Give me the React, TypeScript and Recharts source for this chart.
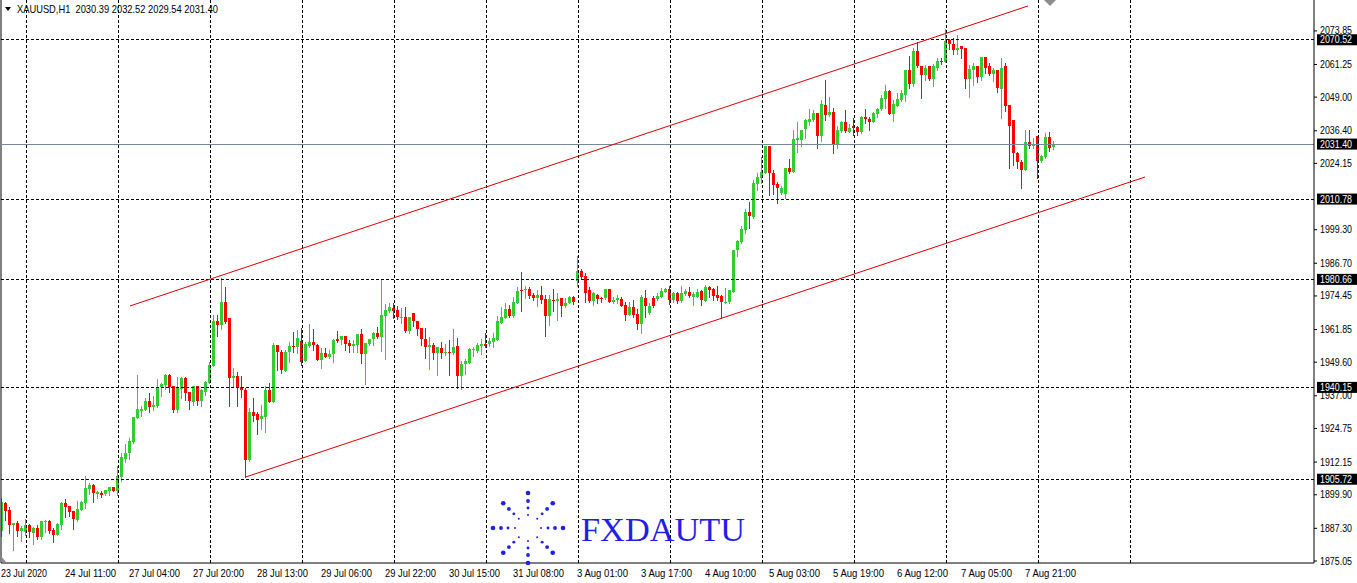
import { ComposedChart, Bar, XAxis, YAxis, ReferenceLine } from 'recharts';

const FONT = "Tahoma, 'Liberation Sans', 'DejaVu Sans', sans-serif";
const UP = '#32CD32';
const DOWN = '#FF0000';

// XAUUSD H1 candles, 23 Jul - 7 Aug 2020 (one entry per bar)
const opens = [
  1886.4, 1896.9, 1894.2, 1888.7, 1889.4, 1886.4, 1886.0, 1888.7,
  1885.7, 1887.5, 1884.2, 1889.7, 1890.0, 1886.7, 1884.9, 1888.7,
  1896.8, 1895.7, 1893.8, 1890.4, 1894.3, 1896.9, 1902.2, 1903.5,
  1900.3, 1900.4, 1900.3, 1901.4, 1902.8, 1901.4, 1906.7, 1913.3,
  1915.4, 1919.8, 1928.8, 1931.4, 1931.7, 1935.2, 1932.9, 1933.2,
  1940.2, 1941.0, 1944.8, 1940.5, 1931.7, 1939.6, 1943.8, 1938.5,
  1934.8, 1940.5, 1935.2, 1938.5, 1941.7, 1948.2, 1965.2, 1963.6,
  1972.0, 1966.1, 1943.5, 1944.5, 1940.2, 1939.2, 1913.0, 1931.1,
  1930.1, 1928.3, 1929.2, 1939.2, 1934.5, 1956.1, 1953.6, 1946.3,
  1953.5, 1955.7, 1955.3, 1957.6, 1950.2, 1955.7, 1957.2, 1956.1,
  1950.5, 1953.0, 1951.7, 1952.5, 1958.2, 1958.0, 1959.5, 1956.8,
  1955.7, 1955.9, 1960.2, 1952.7, 1956.3, 1958.2, 1960.7, 1959.2,
  1967.0, 1968.9, 1969.9, 1969.2, 1966.2, 1966.4, 1961.4, 1967.9,
  1965.0, 1962.4, 1958.3, 1955.4, 1956.0, 1952.9, 1955.0, 1952.9,
  1953.4, 1953.2, 1955.7, 1944.4, 1948.9, 1949.4, 1954.2, 1953.9,
  1955.8, 1956.4, 1956.4, 1957.0, 1958.0, 1964.4, 1966.3, 1969.4,
  1966.9, 1971.9, 1976.7, 1976.5, 1977.1, 1974.8, 1973.8, 1974.8,
  1973.2, 1967.1, 1973.0, 1972.7, 1973.5, 1970.5, 1971.7, 1974.2,
  1980.2, 1983.8, 1982.0, 1976.5, 1972.7, 1974.8, 1973.8, 1973.6,
  1977.1, 1972.3, 1973.0, 1973.2, 1971.1, 1967.3, 1970.2, 1967.7,
  1964.0, 1973.8, 1968.0, 1973.8, 1973.2, 1974.2, 1976.1, 1977.0,
  1973.0, 1975.5, 1972.7, 1975.1, 1976.1, 1974.2, 1974.2, 1976.3,
  1972.7, 1977.7, 1977.0, 1974.8, 1974.5, 1972.0, 1972.0, 1976.1,
  1991.5, 1994.8, 1999.2, 2006.1, 2004.2, 2016.5, 2018.6, 2020.7,
  2030.7, 2020.7, 2016.5, 2013.0, 2012.7, 2022.3, 2021.1, 2033.0,
  2033.0, 2037.0, 2039.6, 2040.5, 2043.0, 2034.6, 2046.2, 2042.3,
  2043.3, 2031.5, 2036.3, 2039.8, 2036.1, 2038.0, 2037.7, 2036.0,
  2041.7, 2040.7, 2039.5, 2042.6, 2044.6, 2048.3, 2051.3, 2042.7,
  2045.8, 2048.0, 2049.8, 2059.2, 2054.0, 2066.3, 2060.5, 2057.3,
  2060.5, 2055.8, 2060.1, 2062.6, 2062.1, 2070.5, 2068.8, 2066.7,
  2068.0, 2067.6, 2055.8, 2059.2, 2060.8, 2056.5, 2064.0, 2060.5,
  2057.7, 2059.0, 2052.1, 2060.5, 2046.1, 2040.5, 2028.2, 2024.8,
  2021.7, 2032.0, 2030.5, 2034.6, 2025.2, 2026.6, 2034.1, 2030.39,
];

const highs = [
  1898.8, 1897.3, 1895.4, 1889.4, 1890.0, 1888.2, 1890.7, 1889.0,
  1887.9, 1888.5, 1890.0, 1890.5, 1890.4, 1887.3, 1889.2, 1897.0,
  1898.3, 1895.7, 1893.8, 1897.5, 1897.5, 1906.9, 1904.4, 1904.0,
  1901.4, 1901.4, 1901.7, 1902.9, 1902.8, 1910.7, 1915.5, 1918.9,
  1921.0, 1929.0, 1944.8, 1933.2, 1936.3, 1938.0, 1936.9, 1943.3,
  1941.9, 1945.0, 1945.2, 1940.8, 1944.2, 1944.2, 1944.2, 1938.5,
  1940.7, 1940.7, 1939.5, 1942.6, 1949.8, 1967.3, 1967.3, 1981.1,
  1977.7, 1966.1, 1947.6, 1946.1, 1944.5, 1939.8, 1932.3, 1936.0,
  1931.1, 1933.6, 1940.5, 1941.7, 1956.7, 1956.2, 1954.2, 1954.0,
  1957.0, 1961.0, 1961.7, 1962.3, 1957.3, 1964.0, 1962.1, 1956.5,
  1954.8, 1954.8, 1954.2, 1958.2, 1961.3, 1959.5, 1959.5, 1958.0,
  1958.0, 1960.2, 1961.9, 1956.7, 1958.4, 1961.0, 1962.9, 1980.7,
  1971.4, 1971.7, 1971.7, 1970.7, 1969.9, 1970.4, 1966.7, 1967.9,
  1965.0, 1962.4, 1962.5, 1958.9, 1956.9, 1955.4, 1957.0, 1956.3,
  1957.9, 1961.9, 1958.5, 1950.2, 1950.8, 1954.9, 1955.4, 1956.7,
  1958.3, 1960.4, 1958.7, 1960.4, 1966.9, 1970.4, 1971.7, 1970.9,
  1974.2, 1977.9, 1983.4, 1978.2, 1977.7, 1975.7, 1976.7, 1978.2,
  1974.8, 1974.8, 1977.0, 1975.5, 1973.8, 1973.6, 1974.5, 1974.5,
  1989.5, 1984.5, 1983.2, 1977.7, 1976.1, 1975.1, 1974.2, 1977.1,
  1977.1, 1974.2, 1974.8, 1974.2, 1972.3, 1972.3, 1973.0, 1969.5,
  1974.8, 1976.7, 1971.7, 1974.5, 1975.7, 1977.3, 1977.3, 1978.3,
  1976.1, 1976.1, 1978.2, 1977.1, 1977.7, 1976.1, 1977.0, 1976.7,
  1978.6, 1978.0, 1977.3, 1978.0, 1974.8, 1977.3, 1976.7, 1991.7,
  1995.5, 2000.5, 2007.0, 2009.5, 2018.0, 2020.5, 2026.5, 2030.7,
  2030.7, 2021.7, 2017.0, 2015.5, 2022.6, 2025.7, 2036.7, 2039.8,
  2036.7, 2040.7, 2044.6, 2044.2, 2043.2, 2048.0, 2055.5, 2049.2,
  2044.8, 2038.0, 2040.1, 2044.0, 2038.8, 2041.1, 2038.2, 2042.0,
  2044.5, 2041.7, 2043.3, 2044.8, 2049.8, 2053.6, 2051.7, 2048.0,
  2050.5, 2051.5, 2059.2, 2064.6, 2067.3, 2069.6, 2060.5, 2061.1,
  2060.5, 2061.3, 2063.6, 2063.8, 2074.6, 2070.8, 2071.1, 2072.3,
  2068.3, 2067.6, 2061.1, 2061.7, 2060.8, 2064.0, 2064.0, 2061.7,
  2059.8, 2059.2, 2063.6, 2061.7, 2046.1, 2040.5, 2028.6, 2025.5,
  2036.7, 2036.7, 2033.6, 2034.6, 2027.3, 2035.5, 2036.1, 2032.52,
];

const lows = [
  1884.5, 1890.4, 1885.4, 1879.2, 1884.5, 1882.7, 1884.8, 1884.2,
  1881.5, 1883.4, 1883.4, 1886.0, 1885.4, 1882.3, 1884.9, 1887.2,
  1891.7, 1891.9, 1887.2, 1890.0, 1894.3, 1895.0, 1900.0, 1897.3,
  1898.8, 1899.0, 1899.7, 1899.9, 1901.4, 1899.8, 1905.2, 1912.3,
  1913.3, 1919.2, 1928.8, 1929.5, 1931.5, 1930.9, 1931.7, 1932.8,
  1937.0, 1939.4, 1938.5, 1930.9, 1930.9, 1936.1, 1935.5, 1932.0,
  1933.6, 1933.6, 1933.3, 1937.3, 1941.7, 1948.0, 1959.5, 1962.2,
  1964.2, 1933.0, 1940.2, 1933.3, 1936.7, 1906.7, 1912.6, 1927.7,
  1922.7, 1924.7, 1923.5, 1934.6, 1934.5, 1946.5, 1945.7, 1946.3,
  1949.5, 1953.6, 1953.2, 1948.6, 1950.2, 1955.2, 1954.2, 1950.5,
  1947.6, 1951.5, 1951.1, 1949.5, 1957.0, 1956.5, 1954.2, 1953.6,
  1953.6, 1953.5, 1949.4, 1941.3, 1955.9, 1956.2, 1958.7, 1953.9,
  1950.9, 1968.3, 1966.0, 1965.7, 1964.2, 1960.9, 1960.7, 1963.2,
  1959.7, 1956.0, 1951.3, 1947.2, 1950.9, 1944.8, 1951.0, 1952.3,
  1944.8, 1952.7, 1939.8, 1939.4, 1945.0, 1949.2, 1951.9, 1953.5,
  1952.7, 1955.4, 1955.7, 1955.4, 1958.0, 1964.2, 1966.0, 1966.7,
  1966.7, 1971.7, 1968.8, 1973.8, 1973.8, 1973.0, 1970.5, 1971.7,
  1959.6, 1963.6, 1968.8, 1965.5, 1967.0, 1970.2, 1971.7, 1971.5,
  1978.2, 1981.1, 1972.3, 1972.0, 1971.1, 1971.7, 1972.0, 1973.3,
  1972.3, 1971.7, 1971.7, 1970.7, 1965.5, 1967.2, 1966.7, 1962.0,
  1960.5, 1966.7, 1967.7, 1970.2, 1973.0, 1974.0, 1976.1, 1971.5,
  1972.3, 1971.7, 1972.3, 1974.8, 1974.2, 1971.1, 1974.0, 1971.1,
  1972.7, 1974.2, 1973.0, 1973.0, 1966.1, 1971.7, 1971.7, 1976.1,
  1989.5, 1994.2, 1998.0, 1999.8, 2003.6, 2014.0, 2016.7, 2020.5,
  2012.3, 2012.7, 2009.2, 2012.7, 2011.3, 2020.7, 2021.1, 2028.6,
  2030.5, 2033.6, 2038.6, 2040.2, 2030.1, 2032.7, 2040.5, 2042.1,
  2028.2, 2029.8, 2036.1, 2036.1, 2035.8, 2034.8, 2034.8, 2035.5,
  2039.2, 2036.7, 2039.5, 2041.7, 2044.2, 2045.1, 2042.7, 2040.2,
  2045.5, 2047.6, 2047.6, 2052.3, 2053.3, 2060.2, 2048.8, 2055.5,
  2055.5, 2053.0, 2059.2, 2061.3, 2062.1, 2067.1, 2065.1, 2065.1,
  2063.6, 2052.6, 2049.2, 2053.6, 2054.8, 2055.5, 2058.0, 2057.3,
  2055.1, 2051.1, 2041.3, 2043.8, 2022.6, 2023.6, 2022.6, 2014.8,
  2021.5, 2030.1, 2029.8, 2018.8, 2024.6, 2026.3, 2028.8, 2029.54,
];

const closes = [
  1897.3, 1893.9, 1888.7, 1889.4, 1886.4, 1887.5, 1888.5, 1886.0,
  1887.5, 1884.2, 1890.0, 1890.0, 1886.4, 1884.9, 1888.9, 1896.8,
  1895.4, 1893.5, 1890.7, 1894.5, 1897.3, 1902.4, 1903.5, 1900.4,
  1900.8, 1899.9, 1901.7, 1902.7, 1901.4, 1906.9, 1914.0, 1915.5,
  1920.0, 1929.0, 1932.0, 1932.0, 1935.2, 1932.9, 1933.5, 1940.3,
  1941.4, 1944.8, 1940.2, 1931.7, 1939.9, 1943.8, 1938.2, 1935.2,
  1940.5, 1935.2, 1939.2, 1942.2, 1948.6, 1965.2, 1963.6, 1972.0,
  1964.8, 1943.5, 1944.5, 1939.8, 1939.2, 1913.0, 1931.1, 1929.6,
  1928.0, 1929.6, 1939.2, 1934.7, 1956.1, 1953.5, 1946.7, 1953.6,
  1955.7, 1955.2, 1958.6, 1949.7, 1956.5, 1957.2, 1956.0, 1950.5,
  1953.0, 1951.7, 1952.7, 1958.0, 1957.5, 1959.5, 1956.5, 1955.7,
  1956.5, 1960.2, 1952.7, 1956.7, 1958.4, 1960.7, 1958.9, 1967.4,
  1969.2, 1970.3, 1968.9, 1966.4, 1966.7, 1961.4, 1966.4, 1965.0,
  1962.2, 1958.4, 1955.4, 1956.0, 1952.9, 1955.2, 1952.9, 1953.4,
  1953.2, 1955.4, 1944.4, 1948.9, 1950.0, 1954.4, 1954.7, 1956.2,
  1956.4, 1955.8, 1957.4, 1958.7, 1965.0, 1966.7, 1969.5, 1966.9,
  1972.2, 1976.4, 1976.3, 1977.1, 1974.6, 1973.8, 1974.8, 1973.0,
  1967.1, 1973.2, 1972.7, 1973.2, 1970.5, 1971.7, 1974.2, 1972.3,
  1983.8, 1981.7, 1975.7, 1972.7, 1975.5, 1973.3, 1973.5, 1977.1,
  1972.3, 1973.0, 1973.6, 1970.8, 1967.3, 1970.2, 1967.3, 1964.0,
  1974.2, 1970.5, 1970.7, 1970.5, 1974.5, 1976.3, 1977.1, 1973.0,
  1975.7, 1972.7, 1975.5, 1976.3, 1974.5, 1975.1, 1976.1, 1973.0,
  1977.7, 1976.5, 1974.5, 1973.6, 1972.0, 1972.3, 1976.5, 1991.7,
  1995.1, 1999.6, 2006.1, 2004.6, 2016.7, 2019.2, 2021.1, 2030.7,
  2020.5, 2016.1, 2015.1, 2014.8, 2022.6, 2021.1, 2033.3, 2033.5,
  2036.7, 2040.5, 2040.7, 2043.0, 2034.6, 2046.5, 2042.2, 2043.6,
  2031.5, 2036.7, 2039.7, 2036.3, 2037.3, 2037.3, 2036.1, 2041.7,
  2040.7, 2039.5, 2043.0, 2044.5, 2048.8, 2051.3, 2042.7, 2046.5,
  2048.3, 2050.5, 2059.0, 2054.0, 2066.3, 2060.5, 2057.3, 2060.1,
  2055.8, 2060.5, 2062.6, 2062.1, 2070.1, 2068.8, 2066.7, 2067.6,
  2067.1, 2055.8, 2059.6, 2060.8, 2056.5, 2064.0, 2060.1, 2057.7,
  2059.0, 2052.3, 2060.1, 2045.8, 2038.3, 2028.0, 2024.6, 2021.7,
  2032.0, 2030.5, 2031.3, 2025.2, 2027.0, 2034.1, 2030.1, 2031.40,
];

// time axis: a label every 16 bars
const timeLabels = [
  '23 Jul 2020', '24 Jul 11:00', '27 Jul 04:00', '27 Jul 20:00', '28 Jul 13:00',
  '29 Jul 06:00', '29 Jul 22:00', '30 Jul 15:00', '31 Jul 08:00', '3 Aug 01:00',
  '3 Aug 17:00', '4 Aug 10:00', '5 Aug 03:00', '5 Aug 19:00', '6 Aug 12:00',
  '7 Aug 05:00', '7 Aug 21:00',
];
const timeTickBars = [0, 16, 32, 48, 64, 80, 96, 112, 128, 144, 160, 176, 192, 208, 224, 240, 256];

// day separators (grid)
const dayBars = [6, 29, 52, 75, 98, 121, 144, 167, 190, 213, 236, 259, 282];

const priceTicks = [
  2073.85, 2061.25, 2049.0, 2036.4, 2024.15, 1999.3, 1986.7, 1974.45,
  1961.85, 1949.6, 1937.0, 1924.75, 1912.15, 1899.9, 1887.3, 1875.05,
];

const levels = [2070.52, 2010.78, 1980.66, 1940.15, 1905.72];
const bid = 2031.4;

// channel (bar index, price)
const upperChannel = [{ x: 32, y: 1970.7 }, { x: 256.5, y: 2083.2 }];
const lowerChannel = [{ x: 61, y: 1906.6 }, { x: 285.75, y: 2019.05 }];

const candles = opens.map((o, i) => ({
  i,
  open: o,
  high: highs[i],
  low: lows[i],
  close: closes[i],
}));

function Candle(props: any) {
  const { x, y, width, height, payload } = props;
  if (x == null || !payload) return null;
  const { open, close, high, low } = payload;
  const color = close >= open ? UP : DOWN;
  const top = Math.min(y, y + height);
  const h = Math.abs(height);
  const span = high - low;
  const py = (p: number) => (span === 0 ? top : top + ((high - p) / span) * h);
  const left = Math.floor(x + width / 2 - 1.5);
  const bTop = Math.round(py(Math.max(open, close)));
  const bBot = Math.max(Math.round(py(Math.min(open, close))), bTop + 1);
  return (
    <g shapeRendering="crispEdges">
      <line x1={left + 1.5} x2={left + 1.5} y1={Math.round(top)} y2={Math.round(top + h) + 1} stroke={color} />
      <rect x={left} y={bTop} width={3} height={bBot - bTop} fill={color} />
    </g>
  );
}

function PriceTag({ viewBox, text }: any) {
  if (!viewBox) return null;
  const right = viewBox.x + viewBox.width;
  return (
    <g>
      <rect x={right + 3} y={viewBox.y - 5.5} width={40} height={11} fill="#000" />
      <text
        x={right + 6}
        y={viewBox.y}
        dy="0.35em"
        fill="#fff"
        fontSize={10}
        fontFamily={FONT}
        textLength={32}
        lengthAdjust="spacingAndGlyphs"
      >
        {text}
      </text>
    </g>
  );
}

function PriceTick({ x, y, payload }: any) {
  return (
    <text
      x={x}
      y={y}
      dy="0.35em"
      fill="#000"
      fontSize={10}
      fontFamily={FONT}
      textAnchor="start"
      textLength={32}
      lengthAdjust="spacingAndGlyphs"
    >
      {Number(payload.value).toFixed(2)}
    </text>
  );
}

function TimeTick({ x, y, payload }: any) {
  const idx = timeTickBars.indexOf(payload.value);
  const label = timeLabels[idx];
  return (
    <text
      x={x - 1}
      y={y + 14}
      fill="#000"
      fontSize={11}
      fontFamily={FONT}
      textAnchor="start"
      textLength={idx === 0 ? 46 : 51}
      lengthAdjust="spacingAndGlyphs"
    >
      {label}
    </text>
  );
}

function Logo() {
  const cx = 528;
  const cy = 528;
  const dots = [];
  for (let a = 0; a < 8; a++) {
    const ang = (a * Math.PI) / 4;
    [13, 20, 27, 35].forEach((r, k) => {
      dots.push(
        <circle key={a + '-' + k} cx={cx + Math.cos(ang) * r} cy={cy + Math.sin(ang) * r} r={1 + k * 0.45} fill="#1f1fe8" />
      );
    });
  }
  return (
    <g>
      {dots}
      <text x={581} y={541} fontSize={33} fontFamily="'Liberation Serif', 'Times New Roman', serif" fill="#1f1fe8" textLength={164} lengthAdjust="spacingAndGlyphs">
        FXDAUTU
      </text>
    </g>
  );
}

export default function App() {
  return (
    <div style={{ position: 'absolute', left: 0, top: 0, width: 1357, height: 583, background: '#fff' }}>
      <ComposedChart width={1357} height={583} data={candles} margin={{ top: 0, right: 0, bottom: 0, left: 1 }}>
        <XAxis
          dataKey="i"
          type="number"
          domain={[-0.25, 328]}
          allowDataOverflow
          ticks={timeTickBars}
          interval={0}
          height={20}
          tickSize={0}
          tickMargin={0}
          tickLine={false}
          axisLine={{ stroke: '#000' }}
          tick={<TimeTick />}
        />
        <YAxis
          orientation="right"
          type="number"
          domain={[1874.3, 2085.43]}
          allowDataOverflow
          ticks={priceTicks}
          interval={0}
          width={43}
          tickSize={3}
          tickMargin={3}
          axisLine={{ stroke: '#000' }}
          tickLine={{ stroke: '#000' }}
          tick={<PriceTick />}
        />
        {dayBars.map((b) => (
          <ReferenceLine key={'d' + b} x={b} stroke="#000" strokeDasharray="3 2" shapeRendering="crispEdges" />
        ))}
        <ReferenceLine x={-0.25} stroke="#000" ifOverflow="visible" />
        <ReferenceLine
          y={bid}
          stroke="#778899"
          shapeRendering="crispEdges"
          label={<PriceTag text={bid.toFixed(2)} />}
        />
        <Bar
          dataKey={(d: any) => [d.low, d.high]}
          barSize={3}
          shape={(p: any) => <Candle {...p} />}
          isAnimationActive={false}
        />
        {levels.map((lv) => (
          <ReferenceLine
            key={'l' + lv}
            y={lv}
            stroke="#000"
            strokeDasharray="3 2"
            shapeRendering="crispEdges"
            label={<PriceTag text={lv.toFixed(2)} />}
          />
        ))}
        <ReferenceLine segment={upperChannel} stroke="#E00000" ifOverflow="visible" />
        <ReferenceLine segment={lowerChannel} stroke="#E00000" ifOverflow="visible" />
      </ComposedChart>
      <svg width={1357} height={583} style={{ position: 'absolute', left: 0, top: 0, pointerEvents: 'none' }}>
        <polygon points="5,7 11,7 8,11" fill="#000" />
        <text
          x={17}
          y={13}
          fontSize={11}
          fontFamily={FONT}
          fill="#000"
          style={{ whiteSpace: 'pre' }}
          textLength={201}
          lengthAdjust="spacingAndGlyphs"
        >
          {'XAUUSD,H1  2030.39 2032.52 2029.54 2031.40'}
        </text>
        <polygon points="1044,0 1056,0 1050,6" fill="#8c8c8c" />
        <polygon points="1,556 1,562 6,562" fill="#8c8c8c" />
        <Logo />
      </svg>
    </div>
  );
}
